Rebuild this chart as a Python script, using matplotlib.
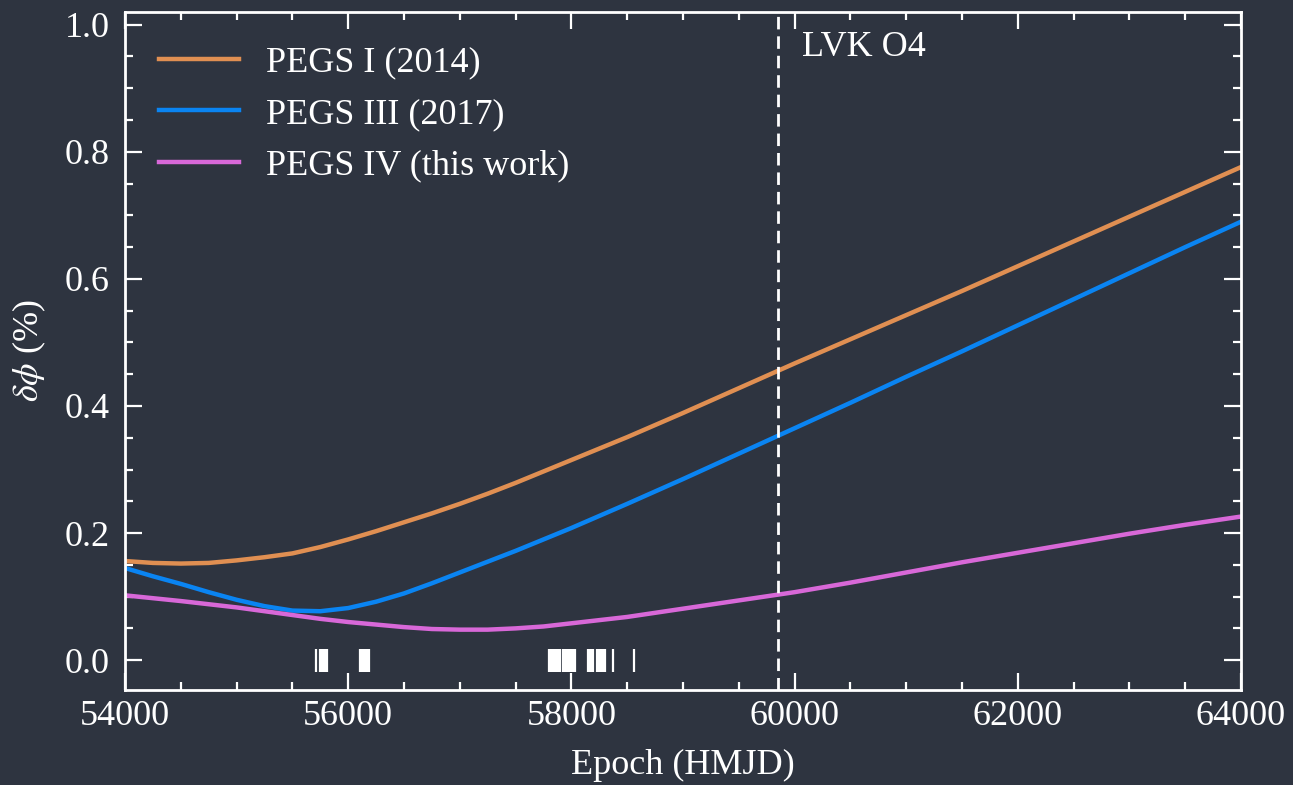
import numpy as np
import matplotlib.pyplot as plt

# epochs (HMJD) and phase precision (%)
epoch = [54000, 54250, 54500, 54750, 55000, 55250, 55500, 55750, 56000, 56250,
         56500, 56750, 57000, 57250, 57500, 57750, 58000, 58500, 59000, 59500,
         60000, 60500, 61000, 61500, 62000, 62500, 63000, 63500, 64000]
pegs1 = [0.156, 0.153, 0.152, 0.153, 0.157, 0.162, 0.168, 0.178, 0.190, 0.203,
         0.217, 0.231, 0.246, 0.262, 0.279, 0.297, 0.315, 0.351, 0.389, 0.428,
         0.467, 0.505, 0.543, 0.581, 0.620, 0.659, 0.698, 0.737, 0.776]
pegs3 = [0.145, 0.132, 0.120, 0.107, 0.095, 0.085, 0.078, 0.077, 0.082, 0.092,
         0.105, 0.121, 0.138, 0.155, 0.172, 0.190, 0.208, 0.246, 0.285, 0.325,
         0.365, 0.405, 0.446, 0.486, 0.527, 0.568, 0.609, 0.650, 0.690]
pegs4 = [0.102, 0.0975, 0.093, 0.088, 0.083, 0.077, 0.071, 0.065, 0.060, 0.056,
         0.052, 0.049, 0.048, 0.048, 0.050, 0.053, 0.058, 0.068, 0.081, 0.094,
         0.107, 0.122, 0.138, 0.154, 0.169, 0.184, 0.199, 0.213, 0.226]

# observation epochs (rug marks)
obs = [55711,
       55747, 55760, 55773, 55786, 55799, 55812,
       56109, 56122, 56135, 56148, 56161, 56174, 56184,
       57802, 57815, 57828, 57841, 57854, 57867, 57880, 57893, 57898,
       57925, 57938, 57951, 57964, 57977, 57990, 58003, 58016, 58030,
       58152, 58165, 58178, 58194,
       58230, 58243, 58256, 58269, 58282, 58295, 58304,
       58369, 58560]

o4_start = 59850

bg = "#2e3440"
fg = "white"
fs = 26

plt.rcParams["font.family"] = ["Liberation Serif", "DejaVu Serif"]
plt.rcParams["mathtext.fontset"] = "stix"
plt.rcParams["font.size"] = fs

fig = plt.figure(figsize=(12.93, 7.85), dpi=100, facecolor=bg)
ax = fig.add_axes([0.0967, 0.121, 0.8631, 0.8637], facecolor=bg)

ax.plot(epoch, pegs1, color="#e08f52", lw=3.2, label="PEGS I (2014)")
ax.plot(epoch, pegs3, color="#0a84f2", lw=3.2, label="PEGS III (2017)")
ax.plot(epoch, pegs4, color="#d868d8", lw=3.2, label="PEGS IV (this work)")

ax.vlines(obs, -0.019, 0.017, color=fg, lw=1.6)

ax.axvline(o4_start, color=fg, ls=(0, (4.5, 2.5)), lw=2)
ax.text(o4_start + 220, 0.964, "LVK O4", color=fg, fontsize=fs, va="center", ha="left")

ax.set_xlim(54000, 64000)
ax.set_ylim(-0.047, 1.02)
ax.set_xticks(np.arange(54000, 64001, 2000))
ax.set_xticks(np.arange(54000, 64001, 500), minor=True)
ax.set_yticks(np.arange(0, 1.01, 0.2))
ax.set_yticks(np.arange(0, 1.01, 0.05), minor=True)
ax.set_yticklabels([f"{v:.1f}" for v in np.arange(0, 1.01, 0.2)])

ax.tick_params(which="both", direction="in", top=True, right=True, colors=fg,
               labelsize=fs)
ax.tick_params(axis="x", pad=7)
ax.tick_params(axis="y", pad=11)
ax.tick_params(which="major", length=12, width=1.6)
ax.tick_params(which="minor", length=6, width=1.6)
for s in ax.spines.values():
    s.set_color(fg)
    s.set_linewidth(2)

ax.set_xlabel("Epoch (HMJD)", color=fg, fontsize=fs, labelpad=12)
ax.set_ylabel(r"$\delta\phi$ (%)", color=fg, fontsize=fs, labelpad=12)

leg = ax.legend(loc="upper left", frameon=False, fontsize=fs, handlelength=2.2,
                handletextpad=0.75, labelspacing=0.5, borderaxespad=0.4,
                borderpad=0.55)
for t in leg.get_texts():
    t.set_color(fg)

fig.savefig("out.png", dpi=100, facecolor=bg)
